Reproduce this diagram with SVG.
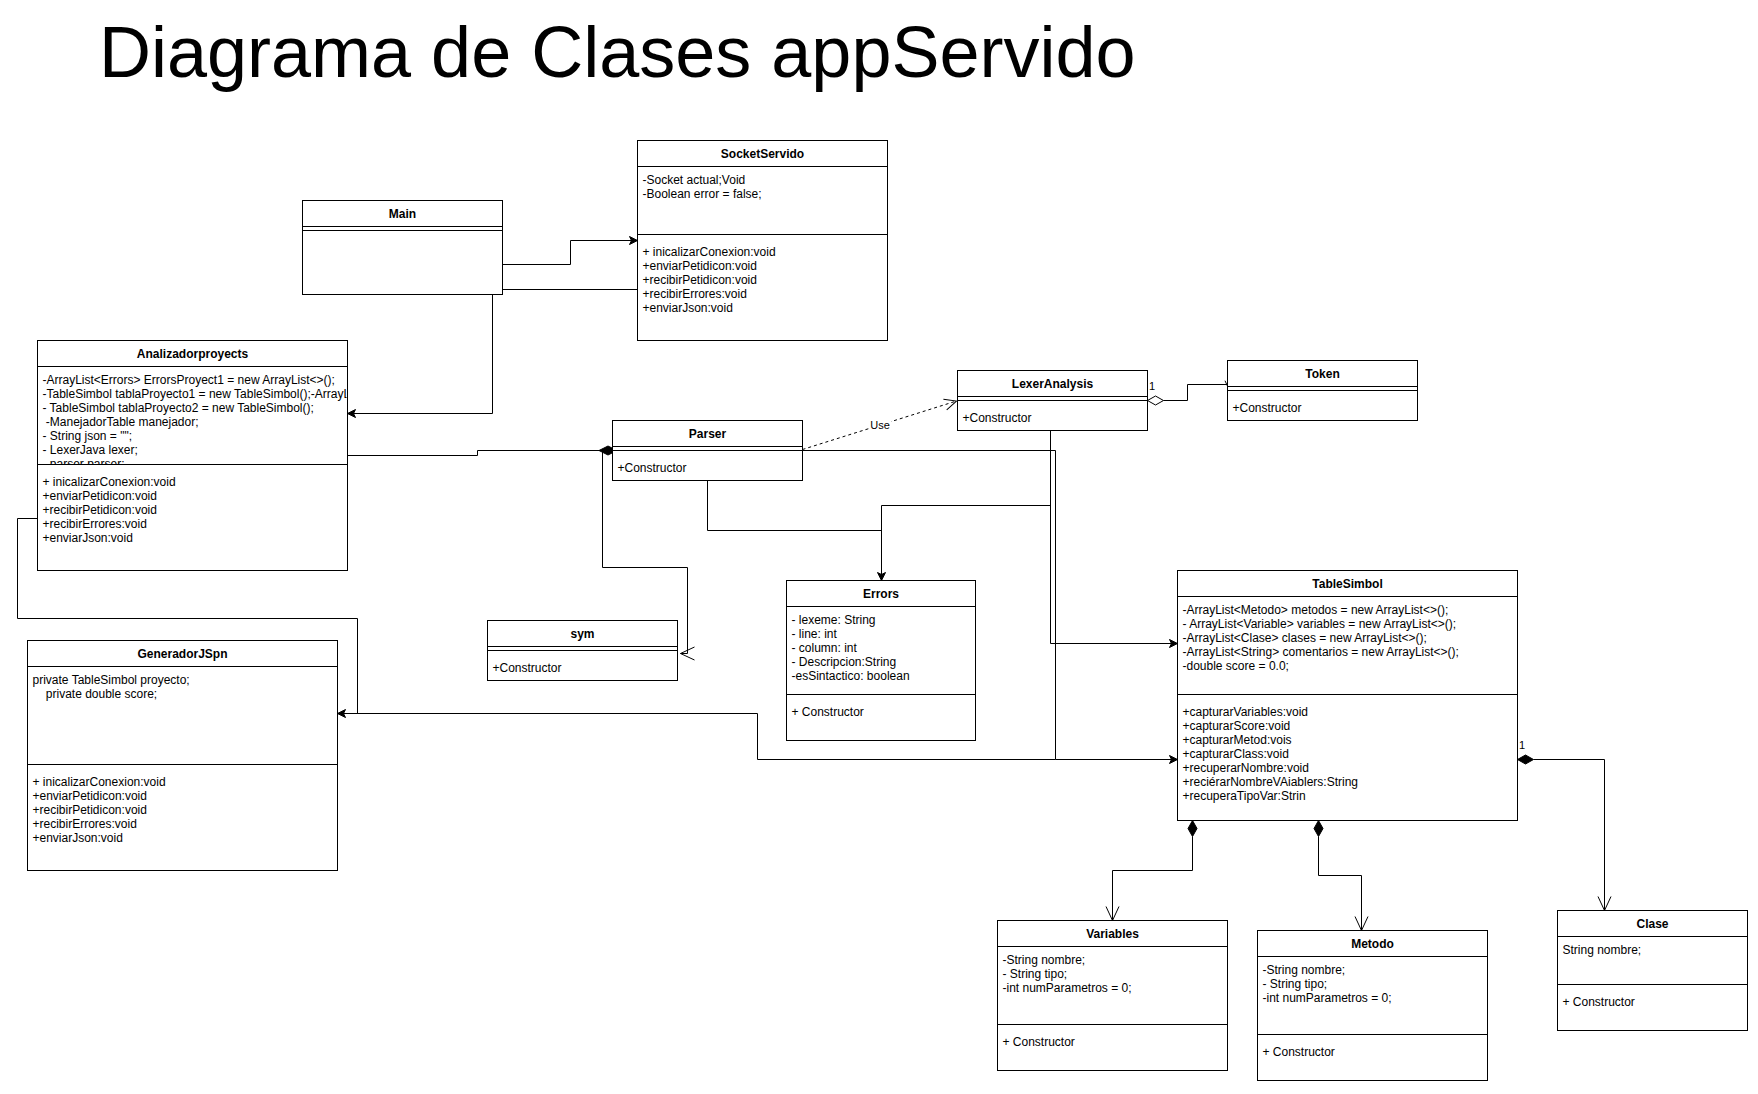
<svg xmlns="http://www.w3.org/2000/svg" width="1758" height="1094" viewBox="0 0 1758 1094">
<style>
  .box { fill: #ffffff; stroke: #000000; stroke-width: 1; }
  .ln { stroke: #000000; stroke-width: 1; fill: none; }
  .t { font-family: "Liberation Sans", Arial, Helvetica, sans-serif; font-size: 12px; fill: #000000; }
  .h { font-family: "Liberation Sans", Arial, Helvetica, sans-serif; font-size: 12px; font-weight: bold; fill: #000000; text-anchor: middle; }
  .lbl { font-family: "Liberation Sans", Arial, Helvetica, sans-serif; font-size: 11px; fill: #000000; }
  .title { font-family: "Liberation Sans", Arial, Helvetica, sans-serif; font-size: 72px; fill: #000000; }
  .edge { stroke: #000000; stroke-width: 1; fill: none; }
</style>
<defs>
  <marker id="block" markerUnits="userSpaceOnUse" orient="auto" refX="0" refY="0" markerWidth="10" markerHeight="10" overflow="visible">
    <path d="M0,0 L-8,-4 L-6,0 L-8,4 Z" fill="#000000" stroke="#000000" stroke-width="1"/>
  </marker>
  <marker id="open" markerUnits="userSpaceOnUse" orient="auto" refX="0" refY="0" markerWidth="16" markerHeight="16" overflow="visible">
    <path d="M-14,-6.5 L0,0 L-14,6.5" fill="none" stroke="#000000" stroke-width="1"/>
  </marker>
  <marker id="openS" markerUnits="userSpaceOnUse" orient="auto" refX="0" refY="0" markerWidth="14" markerHeight="14" overflow="visible">
    <path d="M-12,-5.5 L0,0 L-12,5.5" fill="none" stroke="#000000" stroke-width="1"/>
  </marker>
  <clipPath id="clipAnaAttr"><rect x="38" y="367" width="308.5" height="97.5"/></clipPath>
</defs>
<rect x="0" y="0" width="1758" height="1094" fill="#ffffff"/>

<text class="title" x="99" y="77">Diagrama de Clases appServido</text>

<g id="connectors">
  <path class="edge" d="M502.5,264.5 H570.5 V240.5 H637.5" marker-end="url(#block)"/>
  <path class="edge" d="M637.5,289.5 H492.5 V413.5 H347.5" marker-end="url(#block)"/>
  <path class="edge" d="M347.5,455.5 H477.5 V450.5 H600"/>
  <path class="edge" d="M602.5,450.5 V567.5 H687.5 V653.5 H680.5" marker-end="url(#open)"/>
  <polygon points="599,450.5 608,446 617,450.5 608,455" fill="#000000" stroke="#000000" stroke-width="1"/>
  <path class="edge" d="M802.5,450.5 H1055.5 V759.5 H1177.5" marker-end="url(#block)"/>
  <path class="edge" d="M1050.5,430.5 V643.5 H1177.5" marker-end="url(#block)"/>
  <path class="edge" d="M1050.5,505.5 H881.5 V580.5" marker-end="url(#block)"/>
  <path class="edge" d="M707.5,480.5 V530.5 H881.5"/>
  <path class="edge" d="M1055.5,759.5 H757.5 V713.5 H337.5" marker-end="url(#block)"/>
  <path class="edge" d="M37.5,518.5 H17.5 V618.5 H357.5 V713.5 H345"/>
  <path class="edge" d="M802.5,449.5 L956.5,401" stroke-dasharray="3 3" marker-end="url(#openS)"/>
  <rect x="869" y="418" width="22" height="13" fill="#ffffff"/>
  <text class="lbl" x="880" y="429" text-anchor="middle">Use</text>
  <polygon points="1147.5,400.5 1155.5,396 1163.5,400.5 1155.5,405" fill="#ffffff" stroke="#000000" stroke-width="1"/>
  <path class="edge" d="M1163.5,400.5 H1187.5 V384.5 H1229.5 V390.5"/>
  <polyline class="edge" points="1225,380.7 1229.5,390.5 1237.7,378.3"/>
  <text class="lbl" x="1149" y="390">1</text>
  <text class="lbl" x="618" y="447">1</text>
  <polygon points="1192.5,820.5 1197,828.5 1192.5,836.5 1188,828.5" fill="#000000" stroke="#000000" stroke-width="1"/>
  <path class="edge" d="M1192.5,836.5 V870.5 H1112.5 V920.5" marker-end="url(#open)"/>
  <polygon points="1318.5,820.5 1323,828.5 1318.5,836.5 1314,828.5" fill="#000000" stroke="#000000" stroke-width="1"/>
  <path class="edge" d="M1318.5,836.5 V875.5 H1361.5 V930.5" marker-end="url(#open)"/>
  <polygon points="1517.5,759.5 1525.5,755 1533.5,759.5 1525.5,764" fill="#000000" stroke="#000000" stroke-width="1"/>
  <path class="edge" d="M1533.5,759.5 H1604.5 V910.5" marker-end="url(#open)"/>
  <text class="lbl" x="1196" y="813.5">1</text>
  <text class="lbl" x="1322.5" y="815">1</text>
  <text class="lbl" x="1519" y="749">1</text>
</g>

<g id="Main">
  <rect class="box" x="302.5" y="200.5" width="200" height="94"/>
  <line class="ln" x1="302.5" y1="226.5" x2="502.5" y2="226.5"/>
  <line class="ln" x1="302.5" y1="230.5" x2="502.5" y2="230.5"/>
  <text class="h" x="402.5" y="218">Main</text>
</g>

<g id="SocketServido">
  <rect class="box" x="637.5" y="140.5" width="250" height="200"/>
  <line class="ln" x1="637.5" y1="166.5" x2="887.5" y2="166.5"/>
  <line class="ln" x1="637.5" y1="234.5" x2="887.5" y2="234.5"/>
  <text class="h" x="762.5" y="158">SocketServido</text>
  <text class="t" x="642.5" y="183.5">-Socket actual;Void</text>
  <text class="t" x="642.5" y="197.5">-Boolean error = false;</text>
  <text class="t" x="642.5" y="255.5">+ inicalizarConexion:void</text>
  <text class="t" x="642.5" y="269.5">+enviarPetidicon:void</text>
  <text class="t" x="642.5" y="283.5">+recibirPetidicon:void</text>
  <text class="t" x="642.5" y="297.5">+recibirErrores:void</text>
  <text class="t" x="642.5" y="311.5">+enviarJson:void</text>
</g>

<g id="Analizadorproyects">
  <rect class="box" x="37.5" y="340.5" width="310" height="230"/>
  <line class="ln" x1="37.5" y1="366.5" x2="347.5" y2="366.5"/>
  <line class="ln" x1="37.5" y1="464.5" x2="347.5" y2="464.5"/>
  <text class="h" x="192.5" y="358">Analizadorproyects</text>
  <g clip-path="url(#clipAnaAttr)">
    <text class="t" x="42.5" y="383.5">-ArrayList&lt;Errors&gt; ErrorsProyect1 = new ArrayList&lt;&gt;();</text>
    <text class="t" x="42.5" y="397.5">-TableSimbol tablaProyecto1 = new TableSimbol();-ArrayL</text>
    <text class="t" x="42.5" y="411.5">- TableSimbol tablaProyecto2 = new TableSimbol();</text>
    <text class="t" x="45.8" y="425.5">-ManejadorTable manejador;</text>
    <text class="t" x="42.5" y="439.5">- String json = "";</text>
    <text class="t" x="42.5" y="453.5">- LexerJava lexer;</text>
    <text class="t" x="42.5" y="467.5">- parser parser;</text>
  </g>
  <text class="t" x="42.5" y="485.5">+ inicalizarConexion:void</text>
  <text class="t" x="42.5" y="499.5">+enviarPetidicon:void</text>
  <text class="t" x="42.5" y="513.5">+recibirPetidicon:void</text>
  <text class="t" x="42.5" y="527.5">+recibirErrores:void</text>
  <text class="t" x="42.5" y="541.5">+enviarJson:void</text>
</g>

<g id="GeneradorJSpn">
  <rect class="box" x="27.5" y="640.5" width="310" height="230"/>
  <line class="ln" x1="27.5" y1="666.5" x2="337.5" y2="666.5"/>
  <line class="ln" x1="27.5" y1="764.5" x2="337.5" y2="764.5"/>
  <text class="h" x="182.5" y="658">GeneradorJSpn</text>
  <text class="t" x="32.5" y="683.5">private TableSimbol proyecto;</text>
  <text class="t" x="45.8" y="697.5">private double score;</text>
  <text class="t" x="32.5" y="785.5">+ inicalizarConexion:void</text>
  <text class="t" x="32.5" y="799.5">+enviarPetidicon:void</text>
  <text class="t" x="32.5" y="813.5">+recibirPetidicon:void</text>
  <text class="t" x="32.5" y="827.5">+recibirErrores:void</text>
  <text class="t" x="32.5" y="841.5">+enviarJson:void</text>
</g>

<g id="Parser">
  <rect class="box" x="612.5" y="420.5" width="190" height="60"/>
  <line class="ln" x1="612.5" y1="446.5" x2="802.5" y2="446.5"/>
  <line class="ln" x1="612.5" y1="450.5" x2="802.5" y2="450.5"/>
  <text class="h" x="707.5" y="438">Parser</text>
  <text class="t" x="617.5" y="471.5">+Constructor</text>
</g>

<g id="LexerAnalysis">
  <rect class="box" x="957.5" y="370.5" width="190" height="60"/>
  <line class="ln" x1="957.5" y1="396.5" x2="1147.5" y2="396.5"/>
  <line class="ln" x1="957.5" y1="400.5" x2="1147.5" y2="400.5"/>
  <text class="h" x="1052.5" y="388">LexerAnalysis</text>
  <text class="t" x="962.5" y="421.5">+Constructor</text>
</g>

<g id="Token">
  <rect class="box" x="1227.5" y="360.5" width="190" height="60"/>
  <line class="ln" x1="1227.5" y1="386.5" x2="1417.5" y2="386.5"/>
  <line class="ln" x1="1227.5" y1="390.5" x2="1417.5" y2="390.5"/>
  <text class="h" x="1322.5" y="378">Token</text>
  <text class="t" x="1232.5" y="411.5">+Constructor</text>
</g>

<g id="sym">
  <rect class="box" x="487.5" y="620.5" width="190" height="60"/>
  <line class="ln" x1="487.5" y1="646.5" x2="677.5" y2="646.5"/>
  <line class="ln" x1="487.5" y1="650.5" x2="677.5" y2="650.5"/>
  <text class="h" x="582.5" y="638">sym</text>
  <text class="t" x="492.5" y="671.5">+Constructor</text>
</g>

<g id="Errors">
  <rect class="box" x="786.5" y="580.5" width="189" height="160"/>
  <line class="ln" x1="786.5" y1="606.5" x2="975.5" y2="606.5"/>
  <line class="ln" x1="786.5" y1="694.5" x2="975.5" y2="694.5"/>
  <text class="h" x="881" y="598">Errors</text>
  <text class="t" x="791.5" y="623.5">- lexeme: String</text>
  <text class="t" x="791.5" y="637.5">- line: int</text>
  <text class="t" x="791.5" y="651.5">- column: int</text>
  <text class="t" x="791.5" y="665.5">- Descripcion:String</text>
  <text class="t" x="791.5" y="679.5">-esSintactico: boolean</text>
  <text class="t" x="791.5" y="715.5">+ Constructor</text>
</g>

<g id="TableSimbol">
  <rect class="box" x="1177.5" y="570.5" width="340" height="250"/>
  <line class="ln" x1="1177.5" y1="596.5" x2="1517.5" y2="596.5"/>
  <line class="ln" x1="1177.5" y1="694.5" x2="1517.5" y2="694.5"/>
  <text class="h" x="1347.5" y="588">TableSimbol</text>
  <text class="t" x="1182.5" y="613.5">-ArrayList&lt;Metodo&gt; metodos = new ArrayList&lt;&gt;();</text>
  <text class="t" x="1182.5" y="627.5">- ArrayList&lt;Variable&gt; variables = new ArrayList&lt;&gt;();</text>
  <text class="t" x="1182.5" y="641.5">-ArrayList&lt;Clase&gt; clases = new ArrayList&lt;&gt;();</text>
  <text class="t" x="1182.5" y="655.5">-ArrayList&lt;String&gt; comentarios = new ArrayList&lt;&gt;();</text>
  <text class="t" x="1182.5" y="669.5">-double score = 0.0;</text>
  <text class="t" x="1182.5" y="715.5">+capturarVariables:void</text>
  <text class="t" x="1182.5" y="729.5">+capturarScore:void</text>
  <text class="t" x="1182.5" y="743.5">+capturarMetod:vois</text>
  <text class="t" x="1182.5" y="757.5">+capturarClass:void</text>
  <text class="t" x="1182.5" y="771.5">+recuperarNombre:void</text>
  <text class="t" x="1182.5" y="785.5">+reciérarNombreVAiablers:String</text>
  <text class="t" x="1182.5" y="799.5">+recuperaTipoVar:Strin</text>
</g>

<g id="Variables">
  <rect class="box" x="997.5" y="920.5" width="230" height="150"/>
  <line class="ln" x1="997.5" y1="946.5" x2="1227.5" y2="946.5"/>
  <line class="ln" x1="997.5" y1="1024.5" x2="1227.5" y2="1024.5"/>
  <text class="h" x="1112.5" y="938">Variables</text>
  <text class="t" x="1002.5" y="963.5">-String nombre;</text>
  <text class="t" x="1002.5" y="977.5">- String tipo;</text>
  <text class="t" x="1002.5" y="991.5">-int numParametros = 0;</text>
  <text class="t" x="1002.5" y="1045.5">+ Constructor</text>
</g>

<g id="Metodo">
  <rect class="box" x="1257.5" y="930.5" width="230" height="150"/>
  <line class="ln" x1="1257.5" y1="956.5" x2="1487.5" y2="956.5"/>
  <line class="ln" x1="1257.5" y1="1034.5" x2="1487.5" y2="1034.5"/>
  <text class="h" x="1372.5" y="948">Metodo</text>
  <text class="t" x="1262.5" y="973.5">-String nombre;</text>
  <text class="t" x="1262.5" y="987.5">- String tipo;</text>
  <text class="t" x="1262.5" y="1001.5">-int numParametros = 0;</text>
  <text class="t" x="1262.5" y="1055.5">+ Constructor</text>
</g>

<g id="Clase">
  <rect class="box" x="1557.5" y="910.5" width="190" height="120"/>
  <line class="ln" x1="1557.5" y1="936.5" x2="1747.5" y2="936.5"/>
  <line class="ln" x1="1557.5" y1="984.5" x2="1747.5" y2="984.5"/>
  <text class="h" x="1652.5" y="928">Clase</text>
  <text class="t" x="1562.5" y="953.5">String nombre;</text>
  <text class="t" x="1562.5" y="1005.5">+ Constructor</text>
</g>
</svg>
